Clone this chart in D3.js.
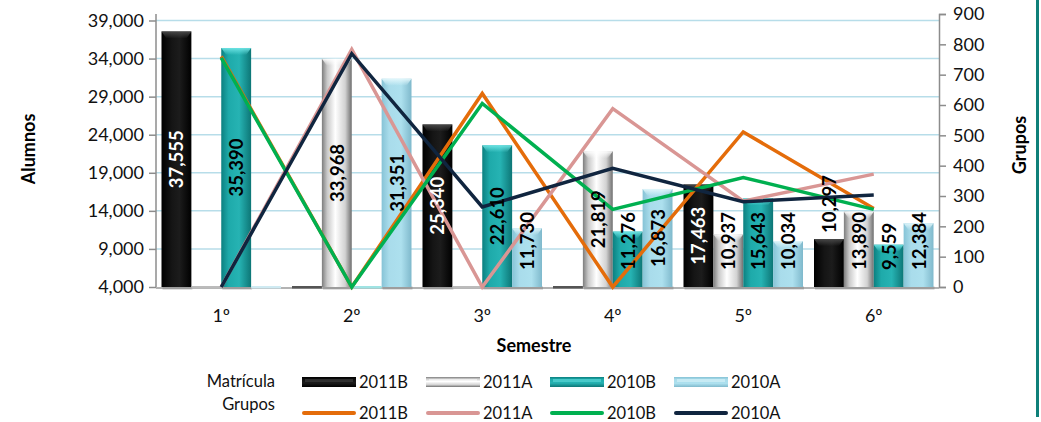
<!DOCTYPE html>
<html>
<head>
<meta charset="utf-8">
<script src="https://cdn.jsdelivr.net/npm/d3@7"></script>
<style>
  body { margin: 0; background: #fff; }
  svg { display: block; font-family: Lato, "Open Sans", sans-serif; }
</style>
</head>
<body>
<svg id="chart" width="1041" height="422"></svg>
<script>
// data
const semestres = ["1º", "2º", "3º", "4º", "5º", "6º"];
const periodos = ["2011B", "2011A", "2010B", "2010A"];

// Matrícula (alumnos), 0 = no hay barra
const alumnos2011B = [37555, 0, 25340, 0, 17463, 10297];
const alumnos2011A = [0, 33968, 0, 21819, 10937, 13890];
const alumnos2010B = [35390, 0, 22610, 11276, 15643, 9559];
const alumnos2010A = [0, 31351, 11730, 16873, 10034, 12384];

// Grupos (eje derecho)
const grupos2011B = [760, 0, 638, 0, 511, 259];
const grupos2011A = [0, 783, 0, 588, 283, 372];
const grupos2010B = [755, 0, 605, 256, 361, 256];
const grupos2010A = [0, 769, 264, 391, 281, 303];

const leftTicks = [4000, 9000, 14000, 19000, 24000, 29000, 34000, 39000];
const rightTicks = [0, 100, 200, 300, 400, 500, 600, 700, 800, 900];

const alumnos = [alumnos2011B, alumnos2011A, alumnos2010B, alumnos2010A];
const grupos = [grupos2011B, grupos2011A, grupos2010B, grupos2010A];
const lineColors = ["#e46c0a", "#d99694", "#00b050", "#10253f"];

const svg = d3.select("#chart");
const defs = svg.append("defs");

const pLeft = 156, pRight = 939, pTop = 14, pBottom = 287;

const x0 = d3.scaleBand().domain(semestres).range([pLeft, pRight]).paddingInner(0).paddingOuter(0);
const x1 = d3.scaleBand().domain(periodos).range([5.5, x0.bandwidth() - 5.5]);
const yL = d3.scaleLinear().domain([4000, 39000]).range([pBottom, 20.5]);
const yR = d3.scaleLinear().domain([0, 900]).range([pBottom, pTop]);

// glossy bar gradients (horizontal) and legend versions (vertical)
const barStops = {
  "2011B": [[0, "#000"], [0.35, "#151515"], [0.6, "#1c1c1c"], [1, "#000"]],
  "2011A": [[0, "#7d7d7d"], [0.18, "#c9c9c9"], [0.45, "#ffffff"], [0.78, "#d2d2d2"], [1, "#6f6f6f"]],
  "2010B": [[0, "#0c8080"], [0.25, "#1eaaaa"], [0.6, "#26b3b3"], [1, "#0d7676"]],
  "2010A": [[0, "#86c3d6"], [0.25, "#a9dceb"], [0.65, "#ade0ee"], [1, "#7fb9cc"]]
};
const capColor = { "2011B": "#4a4a4a", "2011A": "#ffffff", "2010B": "#70e6e6", "2010A": "#e4f8fc" };
const dashColor = { "2011B": "#555", "2011A": "#bbb", "2010B": "#9fe3e3", "2010A": "#cfeaf2" };

periodos.forEach((p, i) => {
  const g = defs.append("linearGradient").attr("id", "bar" + i)
    .attr("x1", 0).attr("x2", 1).attr("y1", 0).attr("y2", 0);
  barStops[p].forEach(s => g.append("stop").attr("offset", s[0]).attr("stop-color", s[1]));
  const gv = defs.append("linearGradient").attr("id", "leg" + i)
    .attr("x1", 0).attr("x2", 0).attr("y1", 0).attr("y2", 1);
  barStops[p].forEach(s => gv.append("stop").attr("offset", s[0]).attr("stop-color", s[1]));
  const cap = defs.append("linearGradient").attr("id", "cap" + i)
    .attr("x1", 0).attr("x2", 0).attr("y1", 0).attr("y2", 1);
  cap.append("stop").attr("offset", 0).attr("stop-color", capColor[p]).attr("stop-opacity", 0.95);
  cap.append("stop").attr("offset", 1).attr("stop-color", capColor[p]).attr("stop-opacity", 0);
});

// gridlines
svg.append("g").selectAll("line")
  .data(leftTicks.slice(1))
  .join("line")
    .attr("x1", pLeft).attr("x2", pRight)
    .attr("y1", d => yL(d)).attr("y2", d => yL(d))
    .attr("stroke", "#b7dde9").attr("stroke-width", 1.5);

// left axis
const axL = svg.append("g")
  .attr("transform", `translate(${pLeft},0)`)
  .call(d3.axisLeft(yL).tickValues(leftTicks).tickFormat(d3.format(",")).tickSizeOuter(0).tickSize(7).tickPadding(5));
axL.select(".domain").attr("stroke", "#8c8c8c").attr("stroke-width", 1.5).attr("d", `M0,${pTop}V${pBottom}`);
axL.selectAll(".tick line").attr("stroke", "#8c8c8c").attr("stroke-width", 1.5);
axL.selectAll(".tick text").attr("font-size", 18).attr("fill", "#111").style("font-family", "Lato");

// right axis
const axR = svg.append("g")
  .attr("transform", `translate(${pRight},0)`)
  .call(d3.axisRight(yR).tickValues(rightTicks).tickSizeOuter(0).tickSize(7).tickPadding(7));
axR.select(".domain").attr("stroke", "#8c8c8c").attr("stroke-width", 1.5);
axR.selectAll(".tick line").attr("stroke", "#8c8c8c").attr("stroke-width", 1.5);
axR.selectAll(".tick text").attr("font-size", 18).attr("fill", "#111").style("font-family", "Lato");

// bottom line
svg.append("line")
  .attr("x1", pLeft).attr("x2", pRight).attr("y1", pBottom + 1).attr("y2", pBottom + 1)
  .attr("stroke", "#9a9a9a").attr("stroke-width", 1.5);

// bars
const barRows = [];
semestres.forEach((s, si) => {
  periodos.forEach((p, pi) => {
    barRows.push({ s, p, pi, v: alumnos[pi][si] });
  });
});

const barG = svg.append("g");
barG.selectAll("rect.shadow")
  .data(barRows.filter(d => d.v > 4000))
  .join("rect")
    .attr("class", "shadow")
    .attr("x", d => x0(d.s) + x1(d.p) + 1)
    .attr("y", pBottom - 1)
    .attr("width", x1.bandwidth())
    .attr("height", 4)
    .attr("fill", "#000").attr("opacity", 0.12);

barG.selectAll("rect.bar")
  .data(barRows.filter(d => d.v > 4000))
  .join("rect")
    .attr("class", "bar")
    .attr("x", d => x0(d.s) + x1(d.p))
    .attr("y", d => yL(d.v))
    .attr("width", x1.bandwidth())
    .attr("height", d => pBottom - yL(d.v))
    .attr("fill", d => `url(#bar${d.pi})`);

// top bevel
barG.selectAll("path.cap")
  .data(barRows.filter(d => d.v > 4000))
  .join("path")
    .attr("class", "cap")
    .attr("d", d => {
      const bx = x0(d.s) + x1(d.p), by = yL(d.v), w = x1.bandwidth();
      return `M${bx},${by}H${bx + w}L${bx + w - 5},${by + 7}H${bx + 5}Z`;
    })
    .attr("fill", d => `url(#cap${d.pi})`);

// empty values shown as a thin base
barG.selectAll("rect.empty")
  .data(barRows.filter(d => d.v <= 4000))
  .join("rect")
    .attr("class", "empty")
    .attr("x", d => x0(d.s) + x1(d.p))
    .attr("y", pBottom - 1)
    .attr("width", x1.bandwidth())
    .attr("height", 2.5)
    .attr("fill", d => dashColor[d.p]);

// lines
const lineGen = d3.line()
  .x((d, i) => x0(semestres[i]) + x0.bandwidth() / 2)
  .y(d => yR(d));

svg.append("g").selectAll("path")
  .data(grupos)
  .join("path")
    .attr("d", d => lineGen(d))
    .attr("fill", "none")
    .attr("stroke", (d, i) => lineColors[i])
    .attr("stroke-width", 3.5)
    .attr("stroke-linejoin", "miter");

// bar value labels
const fmt = d3.format(",");
const labG = svg.append("g");
barRows.filter(d => d.v > 4000).forEach(d => {
  const cx = x0(d.s) + x1(d.p) + x1.bandwidth() / 2;
  const yTop = yL(d.v);
  const t = labG.append("text")
    .attr("font-size", 18.5).attr("font-weight", 700)
    .attr("text-anchor", "middle").attr("dominant-baseline", "central")
    .text(fmt(d.v));
  const len = t.node().getComputedTextLength();
  let cy = Math.min((yTop + pBottom) / 2, pBottom - 17 - len / 2);
  let fill = d.p === "2011B" ? "#fff" : "#000";
  if (d.p === "2011B" && len > pBottom - yTop) {
    cy = yTop - 6 - len / 2;
    fill = "#000";
  }
  t.attr("fill", fill).attr("transform", `translate(${cx},${cy}) rotate(-90)`);
});

// category labels
svg.append("g").selectAll("text")
  .data(semestres)
  .join("text")
    .attr("x", d => x0(d) + x0.bandwidth() / 2)
    .attr("y", 315)
    .attr("text-anchor", "middle").attr("dominant-baseline", "central")
    .attr("font-size", 18).attr("fill", "#111")
    .text(d => d);

// axis titles
svg.append("text")
  .attr("transform", "translate(28,149) rotate(-90)")
  .attr("text-anchor", "middle").attr("dominant-baseline", "central")
  .attr("font-size", 18).attr("font-weight", 700).text("Alumnos");
svg.append("text")
  .attr("transform", "translate(1019,145) rotate(-90)")
  .attr("text-anchor", "middle").attr("dominant-baseline", "central")
  .attr("font-size", 18).attr("font-weight", 700).text("Grupos");
svg.append("text")
  .attr("x", 534).attr("y", 345)
  .attr("text-anchor", "middle").attr("dominant-baseline", "central")
  .attr("font-size", 18).attr("font-weight", 700).text("Semestre");

// legend
const leg = svg.append("g");
leg.append("text").attr("x", 275).attr("y", 381).attr("text-anchor", "end")
  .attr("dominant-baseline", "central").attr("font-size", 16.5).attr("fill", "#111").text("Matrícula");
leg.append("text").attr("x", 275).attr("y", 404).attr("text-anchor", "end")
  .attr("dominant-baseline", "central").attr("font-size", 16.5).attr("fill", "#111").text("Grupos");

const legX = d3.scalePoint().domain(periodos).range([302, 674]);
periodos.forEach((p, i) => {
  const lx = legX(p);
  leg.append("rect").attr("x", lx).attr("y", 377).attr("width", 54).attr("height", 10)
    .attr("fill", `url(#leg${i})`);
  leg.append("rect").attr("x", lx + 3).attr("y", 379).attr("width", 48).attr("height", 3)
    .attr("fill", capColor[p]).attr("opacity", 0.5);
  leg.append("text").attr("x", lx + 57).attr("y", 382)
    .attr("dominant-baseline", "central").attr("font-size", 16.5).attr("fill", "#111").text(p);
  leg.append("line").attr("x1", lx + 2).attr("x2", lx + 52).attr("y1", 413).attr("y2", 413)
    .attr("stroke", lineColors[i]).attr("stroke-width", 4).attr("stroke-linecap", "round");
  leg.append("text").attr("x", lx + 57).attr("y", 413)
    .attr("dominant-baseline", "central").attr("font-size", 16.5).attr("fill", "#111").text(p);
});

// right frame line
svg.append("rect").attr("x", 1036).attr("y", 0).attr("width", 3).attr("height", 417)
  .attr("fill", "#0e8079");
</script>
</body>
</html>
